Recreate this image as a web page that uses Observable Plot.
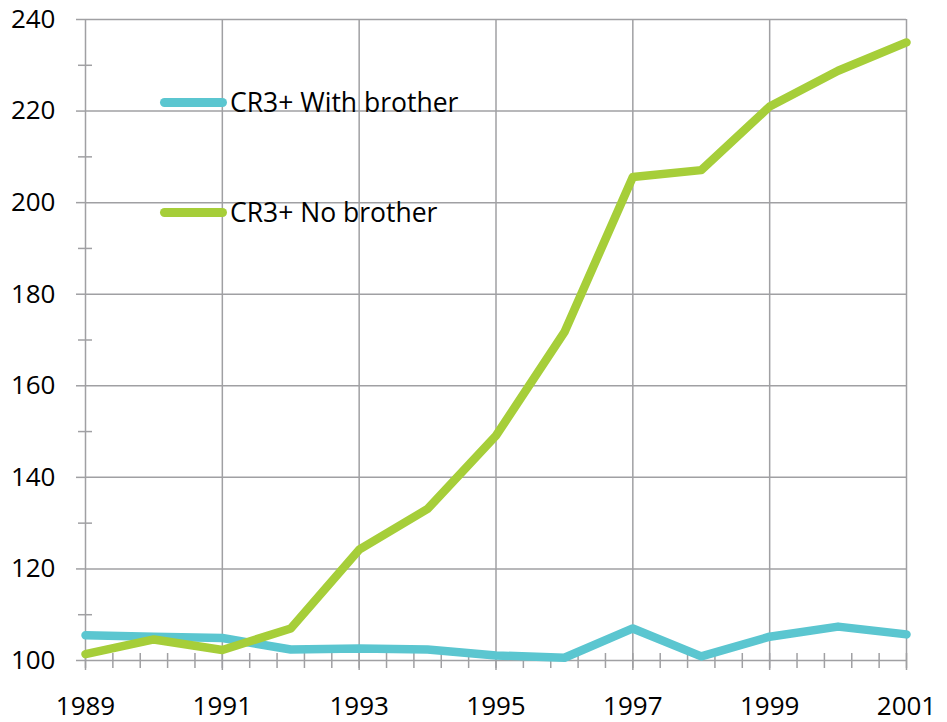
<!DOCTYPE html>
<html>
<head>
<meta charset="utf-8">
<script src="https://cdn.jsdelivr.net/npm/d3@7"></script>
<script src="https://cdn.jsdelivr.net/npm/@observablehq/plot@0.6"></script>
<style>
  html, body { margin: 0; padding: 0; background: #fff; }
  #wrap { position: relative; width: 947px; height: 722px; font-family: "Open Sans", sans-serif; }
  .leg { position: absolute; display: flex; align-items: center; font-size: 26.5px; color: #000; white-space: nowrap; }
  .sw { width: 67px; height: 9px; border-radius: 5px; margin-right: 3px; }
</style>
</head>
<body>
<div id="wrap"></div>
<script>
const years = [1989, 1990, 1991, 1992, 1993, 1994, 1995, 1996, 1997, 1998, 1999, 2000, 2001];
const withBrother = [105.5, 105.2, 104.9, 102.4, 102.6, 102.4, 101.1, 100.6, 107.0, 100.9, 105.2, 107.4, 105.7];
const noBrother = [101.4, 104.6, 102.3, 107.0, 124.2, 133.1, 149.1, 171.7, 205.6, 207.1, 221.0, 228.8, 235.0];
const seriesNames = ["CR3+ With brother", "CR3+ No brother"];
const seriesColors = ["#5bc6d0", "#a6ce39"];
const xMajor = [1989, 1991, 1993, 1995, 1997, 1999, 2001];
const xMinor = d3.range(0, 31).map(i => +(1989 + i * 0.4).toFixed(1));
const yMajor = [100, 120, 140, 160, 180, 200, 220, 240];
const yMinor = [110, 130, 150, 170, 190, 210, 230];

const rows = [];
years.forEach((y, i) => {
  rows.push({year: y, value: withBrother[i], series: seriesNames[0]});
  rows.push({year: y, value: noBrother[i], series: seriesNames[1]});
});

const grid = "#a0a0a3";
const fs = 26;
const chart = Plot.plot({
  width: 947,
  height: 722,
  marginLeft: 85,
  marginRight: 41,
  marginTop: 19,
  marginBottom: 62,
  style: {fontFamily: "Open Sans, sans-serif", fontSize: fs + "px", color: "#000", background: "#fff", overflow: "visible"},
  x: {domain: [1989, 2001]},
  y: {domain: [100, 240]},
  color: {domain: seriesNames, range: seriesColors},
  marks: [
    Plot.ruleX(xMajor, {stroke: grid, strokeWidth: 1.5}),
    Plot.ruleY(yMajor, {stroke: grid, strokeWidth: 1.5}),
    Plot.axisX({ticks: xMinor, tickSize: 15, dy: -7, text: null, label: null, stroke: grid, strokeWidth: 1.5}),
    Plot.axisX({ticks: xMajor, tickSize: 10, text: null, label: null, stroke: grid, strokeWidth: 1.5}),
    Plot.axisX({ticks: xMajor, tickSize: 0, tickPadding: 36, tickFormat: d => String(d), label: null, fill: "#000", fontSize: fs}),
    Plot.axisY({ticks: yMinor, tickSize: 14, dx: 7, text: null, label: null, stroke: grid, strokeWidth: 1.5}),
    Plot.axisY({ticks: yMajor, tickSize: 9, text: null, label: null, stroke: grid, strokeWidth: 1.5}),
    Plot.axisY({ticks: yMajor, tickSize: 0, tickPadding: 30, label: null, fill: "#000", fontSize: fs}),
    Plot.line(rows, {x: "year", y: "value", z: "series", stroke: "series", strokeWidth: 8.5, strokeLinecap: "round", strokeLinejoin: "round"})
  ]
});

const wrap = document.getElementById("wrap");
wrap.appendChild(chart);
const legTops = [102, 212];
seriesNames.forEach((name, i) => {
  const d = document.createElement("div");
  d.className = "leg";
  d.style.left = "160px";
  d.style.top = (legTops[i] - 18) + "px";
  d.style.height = "36px";
  const sw = document.createElement("div");
  sw.className = "sw";
  sw.style.background = seriesColors[i];
  const t = document.createElement("span");
  t.textContent = name;
  d.appendChild(sw);
  d.appendChild(t);
  wrap.appendChild(d);
});
</script>
</body>
</html>
